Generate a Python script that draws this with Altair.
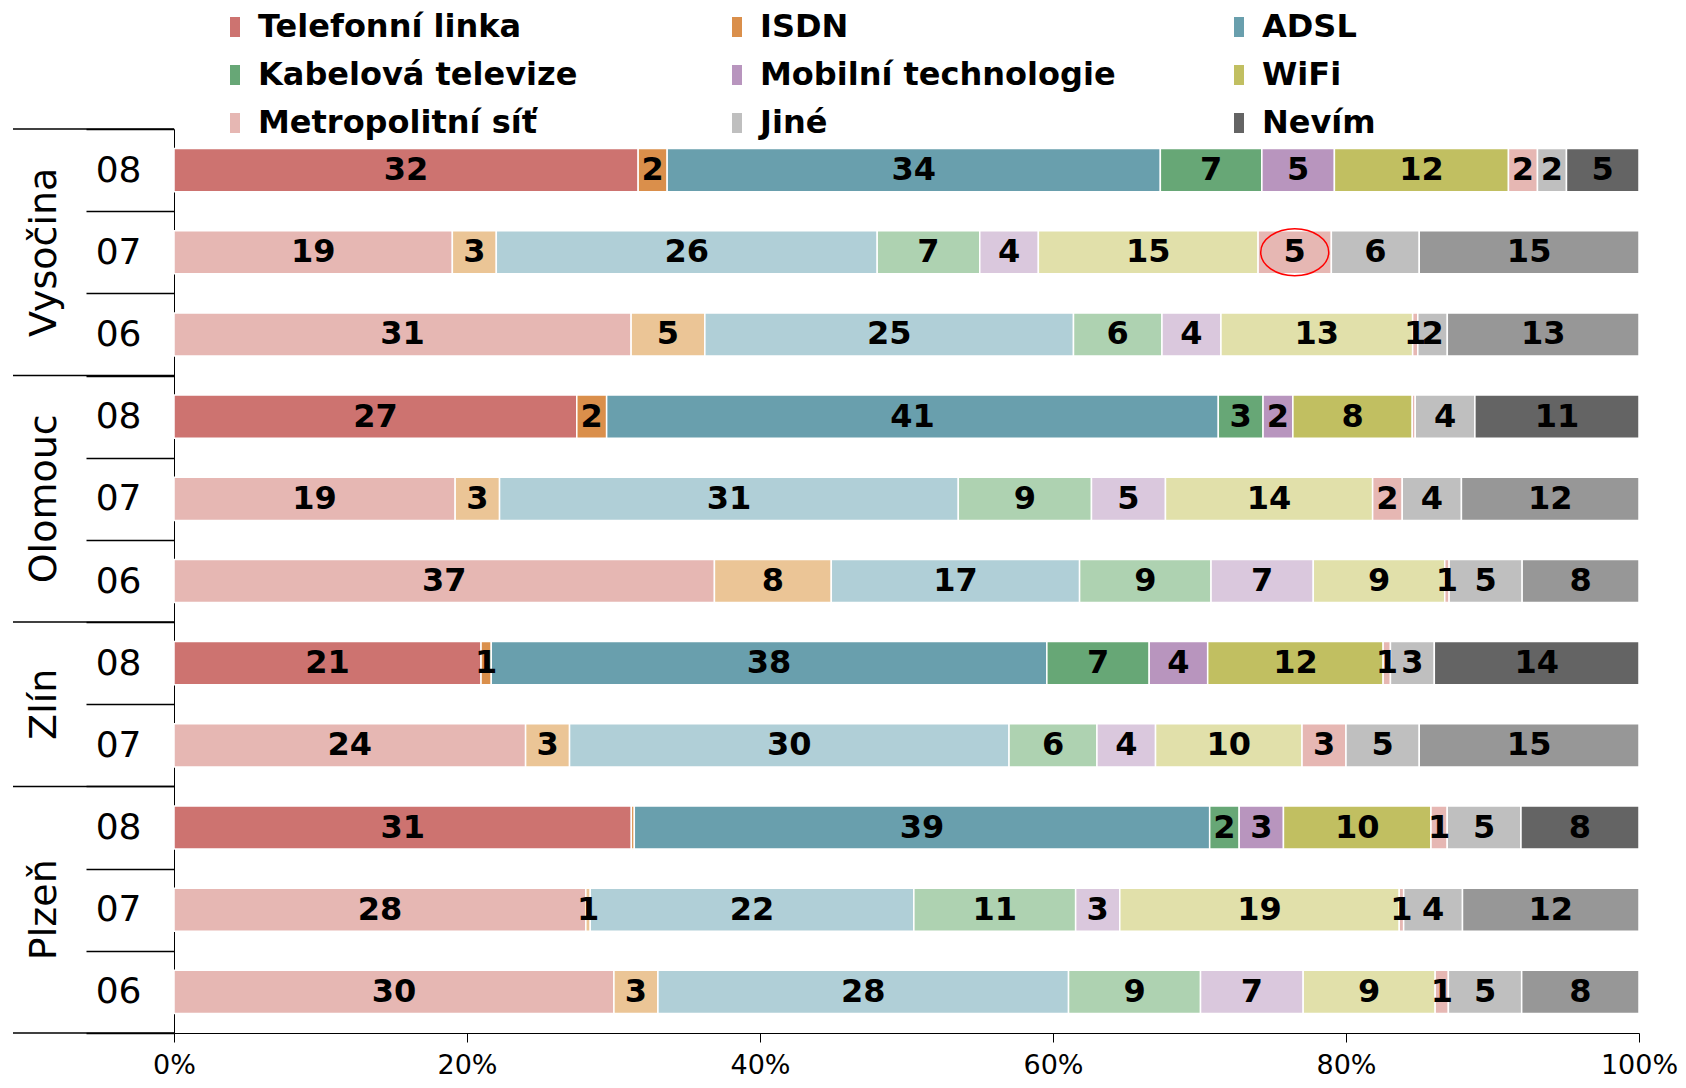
import altair as alt
import pandas as pd

# ---- data ----
regions = ["Vysočina", "Vysočina", "Vysočina", "Olomouc", "Olomouc", "Olomouc",
           "Zlín", "Zlín", "Plzeň", "Plzeň", "Plzeň"]
years = ["08", "07", "06", "08", "07", "06", "08", "07", "08", "07", "06"]

categories = ["Telefonní linka", "ISDN", "ADSL", "Kabelová televize",
              "Mobilní technologie", "WiFi", "Metropolitní síť", "Jiné", "Nevím"]

telefon = [32, 19, 31, 27, 19, 37, 21, 24, 31, 28, 30]
isdn = [2, 3, 5, 2, 3, 8, 0.7, 3, 0.2, 0.3, 3]
adsl = [34, 26, 25, 41, 31, 17, 38, 30, 39, 22, 28]
kabel = [7, 7, 6, 3, 9, 9, 7, 6, 2, 11, 9]
mobil = [5, 4, 4, 2, 5, 7, 4, 4, 3, 3, 7]
wifi = [12, 15, 13, 8, 14, 9, 12, 10, 10, 19, 9]
metro = [2, 5, 0.35, 0.2, 2, 0.3, 0.5, 3, 1.1, 0.3, 0.9]
jine = [2, 6, 2, 4, 4, 5, 3, 5, 5, 4, 5]
nevim = [5, 15, 13, 11, 12, 8, 14, 15, 8, 12, 8]

# printed labels for the thin segments
isdn_labels = ["2", "3", "5", "2", "3", "8", "1", "3", "", "1", "3"]
metro_labels = ["2", "5", "1", "", "2", "1", "1", "3", "1", "1", "1"]

dark_colors = ["#CD7370", "#DA8F4B", "#699FAD", "#67A776", "#B895BE",
               "#C1BF61", "#E6B7B3", "#BFBFBF", "#646464"]
light_colors = ["#E6B7B3", "#EBC596", "#B0CFD7", "#AED2B1", "#DAC8DD",
                "#E1E0AA", "#E6B7B3", "#BFBFBF", "#979797"]

series = [telefon, isdn, adsl, kabel, mobil, wifi, metro, jine, nevim]

# ---- build tables ----
row_keys = [f"{r}|{y}" for r, y in zip(regions, years)]
records = []
for i, key in enumerate(row_keys):
    for j, cat in enumerate(categories):
        v = series[j][i]
        if j == 1:
            lab = isdn_labels[i]
        elif j == 6:
            lab = metro_labels[i]
        else:
            lab = str(int(v))
        fill = dark_colors[j] if years[i] == "08" else light_colors[j]
        records.append({"row": key, "region": regions[i], "year": years[i],
                        "cat": cat, "ci": j, "value": v, "label": lab, "fill": fill})
df = pd.DataFrame(records)

# legend is filled column by column: reorder so it reads row by row (3 per row)
NCOL = 3
nrow_leg = len(categories) // NCOL
leg_order = [r * NCOL + c for c in range(NCOL) for r in range(nrow_leg)]
leg_domain = [categories[k] for k in leg_order]
leg_range = [dark_colors[k] for k in leg_order]

# region groups (rows counted from the list above)
reg_names, reg_counts = [], []
for r in regions:
    if reg_names and reg_names[-1] == r:
        reg_counts[-1] += 1
    else:
        reg_names.append(r)
        reg_counts.append(1)
starts = [sum(reg_counts[:k]) for k in range(len(reg_counts))]
reg_df = pd.DataFrame({"region": reg_names,
                       "mid": [s + c / 2 for s, c in zip(starts, reg_counts)]})
bound_df = pd.DataFrame({"b": starts + [len(regions)]})

FONT = "DejaVu Sans"
W, H = 1465, 904

band = alt.Scale(domain=row_keys, paddingInner=0, paddingOuter=0)
rowq = alt.Scale(domain=[0, len(regions)], reverse=True, nice=False, zero=False)
xscale = alt.Scale(domain=[0, 1], nice=False)

base = alt.Chart(df).transform_stack(
    stack="value", groupby=["row"], as_=["x0", "x1"], offset="normalize",
    sort=[alt.SortField("ci", order="ascending")]
).transform_calculate(xm="(datum.x0 + datum.x1) / 2")

bars = base.mark_bar(height=alt.RelativeBandSize(0.525), stroke="white",
                     strokeWidth=1.5).encode(
    x=alt.X("x0:Q", scale=xscale,
            axis=alt.Axis(title=None, format=".0%", values=[0, 0.2, 0.4, 0.6, 0.8, 1],
                          grid=False, domainColor="black", tickColor="black",
                          tickSize=9, labelFontSize=27, labelFont=FONT,
                          labelColor="black", labelPadding=10, labelFlush=False)),
    x2="x1:Q",
    y=alt.Y("row:N", sort=row_keys, scale=band,
            axis=alt.Axis(title=None, tickBand="extent", tickSize=88, tickWidth=1.5,
                          tickColor="black", domainColor="black", domainWidth=1,
                          labelExpr="split(datum.value, '|')[1]", labelFontSize=36,
                          labelFont=FONT, labelColor="black", labelPadding=-55)),
    fill=alt.Fill("fill:N", scale=None),
)

labels = base.mark_text(font=FONT, fontSize=32, fontWeight="bold", color="black",
                        baseline="middle", align="center").encode(
    x=alt.X("xm:Q", scale=xscale),
    y=alt.Y("row:N", sort=row_keys, scale=band, axis=None),
    text="label:N",
)

ellipse = base.transform_filter(
    (alt.datum.row == "Vysočina|07") & (alt.datum.cat == "Metropolitní síť")
).mark_point(shape="M-1,0A1,0.69,0,1,0,1,0A1,0.69,0,1,0,-1,0Z", size=4624,
             filled=False, stroke="#FF0000", strokeWidth=1.5, opacity=1).encode(
    x=alt.X("xm:Q", scale=xscale),
    y=alt.Y("row:N", sort=row_keys, scale=band, axis=None),
)

legend_layer = base.mark_square(opacity=0, size=1).encode(
    x=alt.X("xm:Q", scale=xscale),
    y=alt.Y("row:N", sort=row_keys, scale=band, axis=None),
    color=alt.Color("cat:N", scale=alt.Scale(domain=leg_domain, range=leg_range),
                    legend=alt.Legend(title=None, orient="none", legendX=45, legendY=-118,
                                      columns=NCOL, gridAlign="all", columnPadding=107,
                                      rowPadding=16, padding=0,
                                      symbolType="M-0.5,-1L0.5,-1L0.5,1L-0.5,1Z",
                                      symbolSize=400, symbolOpacity=1, symbolStrokeWidth=0,
                                      labelFont=FONT, labelFontSize=32, labelFontWeight="bold",
                                      labelColor="black", labelOffset=7, labelLimit=600)),
)

region_text = alt.Chart(reg_df).mark_text(angle=270, font=FONT, fontSize=38, color="black",
                                          align="center", baseline="middle").encode(
    y=alt.Y("mid:Q", scale=rowq, axis=None),
    x=alt.value(-129),
    text="region:N",
)

region_rules = alt.Chart(bound_df).mark_rule(color="black", strokeWidth=1.5).encode(
    y=alt.Y("b:Q", scale=rowq, axis=None),
    x=alt.value(-161),
    x2=alt.value(0),
)

chart = alt.layer(bars, labels, ellipse, legend_layer, region_text, region_rules).resolve_scale(
    y="independent"
).properties(
    width=W, height=H,
    padding={"left": 166, "top": 121, "right": 39, "bottom": 47},
    autosize=alt.AutoSizeParams(type="none"),
    background="white",
).configure_view(stroke=None)

chart.save("out.html", embed_options={"renderer": "svg", "actions": False})
